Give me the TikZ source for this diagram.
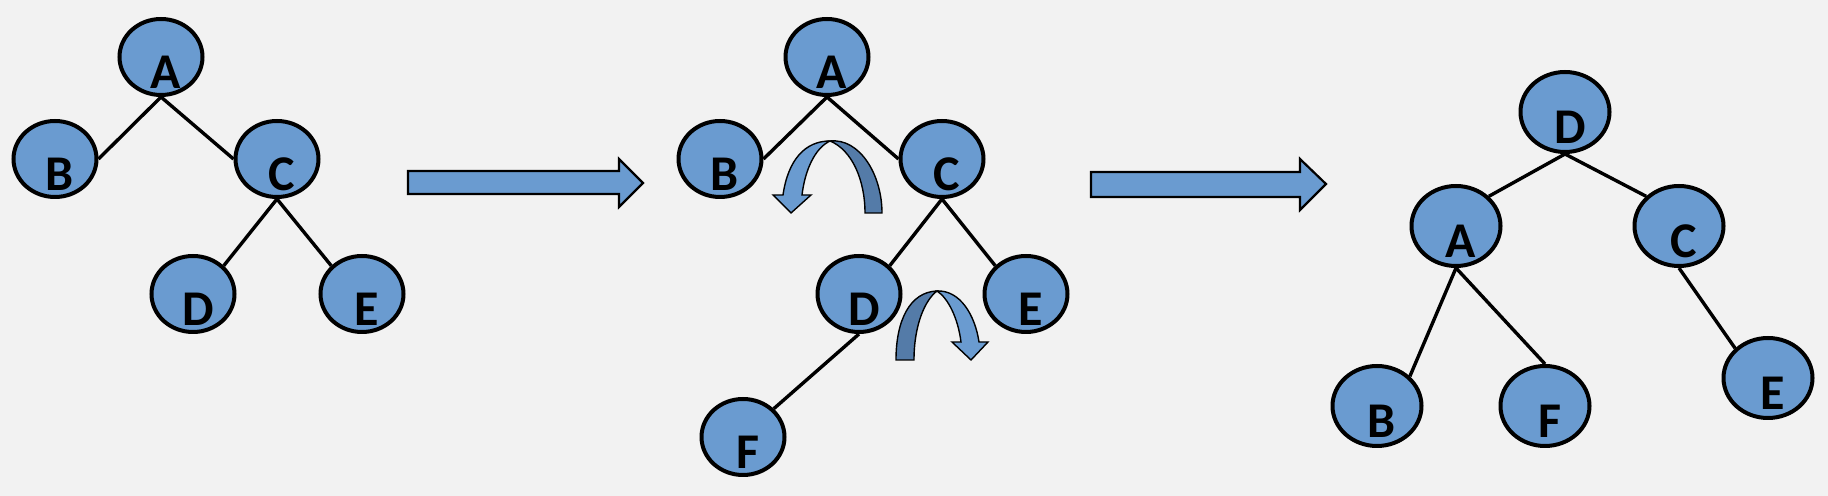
\documentclass[tikz,border=0pt]{standalone}
\usepackage{fontspec}
\setmainfont{Carlito}
\usepackage{tikz}
\usetikzlibrary{shapes.geometric}
\definecolor{canvas}{RGB}{242,242,242}
\definecolor{nodefill}{RGB}{106,155,208}
\definecolor{backfill}{RGB}{84,123,168}

\begin{document}
\begin{tikzpicture}[x=0.5pt, y=-0.5pt,
    vtx/.style={ellipse, draw=black, line width=2pt, fill=nodefill,
                minimum width=41.5pt, minimum height=38pt, inner sep=0pt,
                label={[lbl]center:#1}},
    bigvtx/.style={vtx=#1, minimum width=44.5pt, minimum height=40pt},
    lbl/.style={font=\fontsize{25}{25}\selectfont\bfseries, xshift=2.5pt, yshift=-7.5pt, inner sep=0pt},
    link/.style={line width=1.7pt},
    fatarrow/.style={draw=black, line width=1.1pt, fill=nodefill, line join=miter},
    turnband/.style={draw=black, line width=0.7pt, fill=#1, line join=miter}
  ]
    \fill[canvas] (0,0) rectangle (1828,496);
    \useasboundingbox (0,0) rectangle (1828,496);

    % first tree
    \node[vtx=A] (a1) at (161,57) {};
    \node[vtx=B] (b1) at (55,159) {};
    \node[vtx=C] (c1) at (277,159) {};
    \node[vtx=D] (d1) at (193,294) {};
    \node[vtx=E] (e1) at (362,294) {};

    \draw[link] (a1.south) -- (b1.east);
    \draw[link] (a1.south) -- (c1.west);
    \draw[link] (c1.south) -- (d1.north east);
    \draw[link] (c1.south) -- (e1.north west);

    \draw[fatarrow] (408,171) -- (619,171) -- (619,159) -- (643,183) -- (619,207) -- (619,194) -- (408,194) -- cycle;

    % second tree
    \node[vtx=A] (a2) at (827,57) {};
    \node[vtx=B] (b2) at (720,159) {};
    \node[vtx=C] (c2) at (942,159) {};
    \node[vtx=D] (d2) at (859,294) {};
    \node[vtx=E] (e2) at (1026,294) {};
    \node[vtx=F] (f2) at (743,437) {};

    \draw[link] (a2.south) -- (b2.east);
    \draw[link] (a2.south) -- (c2.west);
    \draw[link] (c2.south) -- (d2.north east);
    \draw[link] (c2.south) -- (e2.north west);
    \draw[link] (d2.south) -- (f2.north east);

    % rotation arrows
    \path[turnband=backfill] (830,141) .. controls (860,138) and (882,175) .. (882,213)
        -- (865,213) .. controls (865,180) and (852,150) .. (830,141) -- cycle;
    \path[turnband=nodefill] (783,195) .. controls (788,160) and (805,141) .. (830,141)
        .. controls (815,148) and (805,170) .. (802,195) -- (811,195) -- (791,213) -- (773,195) -- cycle;

    \path[turnband=backfill] (896,360) .. controls (896,320) and (910,292) .. (937,291)
        .. controls (925,300) and (914,325) .. (914,360) -- cycle;
    \path[turnband=nodefill] (937,291) .. controls (960,290) and (975,315) .. (979,342)
        -- (988,342) -- (971,360) -- (952,342) -- (961,342) .. controls (958,318) and (948,298) .. (937,291) -- cycle;

    \draw[fatarrow] (1091,172) -- (1300,172) -- (1300,159) -- (1326,184) -- (1300,210) -- (1300,197) -- (1091,197) -- cycle;

    % third tree
    \node[bigvtx=D] (d3) at (1565,112) {};
    \node[bigvtx=A] (a3) at (1456,226) {};
    \node[bigvtx=C] (c3) at (1679,226) {};
    \node[bigvtx=B] (b3) at (1377,406) {};
    \node[bigvtx=F] (f3) at (1545,406) {};
    \node[bigvtx=E] (e3) at (1768,378) {};

    \draw[link] (d3.south) -- (a3.north east);
    \draw[link] (d3.south) -- (c3.north west);
    \draw[link] (a3.south) -- (b3.north east);
    \draw[link] (a3.south) -- (f3.north);
    \draw[link] (c3.south) -- (e3.north west);
\end{tikzpicture}
\end{document}
